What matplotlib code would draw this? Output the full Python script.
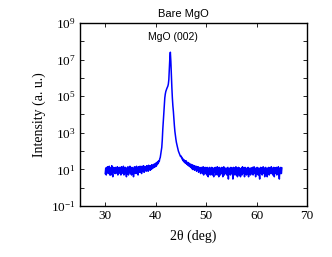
import numpy as np
import matplotlib
matplotlib.use("Agg")
import matplotlib.pyplot as plt
from matplotlib.ticker import LogFormatterMathtext

# 2theta grid, 0.1 deg step from 30 to 65
twoTheta = np.round(np.arange(30.0, 65.05, 0.1), 1)

intensity = [
  6, 12, 5, 13, 7, 14, 6, 11, 15, 5,
  12, 5, 11, 16, 6, 4, 13, 7, 12, 6,
  13, 6, 11, 7, 14, 5, 12, 6, 13, 7,
  12, 5, 14, 6, 11, 7, 15, 5, 12, 6,
  13, 7, 4, 12, 6, 14, 5, 11, 7, 15,
  6, 12, 5, 13, 7, 11, 4, 12, 14, 6,
  13, 7, 15, 6, 12, 5, 14, 7, 12, 15,
  7, 13, 6, 15, 8, 12, 16, 7, 13, 9,
  14, 8, 16, 9, 15, 8, 17, 10, 15, 9,
  16, 10, 18, 11, 17, 12, 19, 13, 20, 14,
  22, 15, 24, 18, 27, 21, 30, 27, 38, 45,
  70, 100, 160, 400, 1500, 4000, 12000, 35000, 80000, 130000,
  180000, 220000, 260000, 300000, 350000, 450000, 800000, 3000000, 12000000, 25000000,
  8000000, 1500000, 300000, 80000, 30000, 15000, 6000, 2500, 1200, 700,
  450, 300, 220, 170, 130, 100, 85, 70, 60, 52,
  55, 44, 46, 34, 38, 28, 34, 24, 30, 22,
  30, 20, 25, 18, 24, 16, 22, 15, 20, 13,
  19, 12, 18, 10, 17, 11, 16, 9, 15, 10,
  15, 8, 14, 9, 14, 7, 13, 8, 12, 6,
  13, 7, 12, 6, 14, 5, 12, 7, 13, 6,
  12, 5, 13, 7, 4, 12, 6, 13, 5, 11,
  7, 13, 5, 12, 6, 4, 12, 7, 13, 5,
  11, 6, 14, 5, 12, 4, 13, 7, 5, 12,
  6, 13, 7, 4, 12, 14, 5, 11, 6, 12,
  7, 5, 12, 13, 3, 11, 6, 12, 5, 13,
  6, 12, 7, 3, 13, 6, 12, 5, 11, 14,
  5, 12, 4, 11, 13, 5, 12, 6, 4, 11,
  12, 5, 14, 6, 11, 12, 4, 13, 6, 11,
  5, 12, 7, 13, 4, 11, 6, 12, 5, 11,
  12, 6, 13, 5, 11, 14, 6, 12, 4, 11,
  6, 13, 7, 5, 12, 6, 3, 11, 13, 6,
  12, 5, 11, 14, 6, 12, 4, 11, 13, 6,
  11, 4, 12, 6, 13, 5, 11, 12, 6, 14,
  6, 12, 5, 11, 13, 4, 12, 6, 11, 13,
  5, 12, 7, 14, 6, 3, 12, 6, 13, 6,
  12,
]

xTicks = [30, 40, 50, 60, 70]
yMajor = [1e-1, 1e1, 1e3, 1e5, 1e7, 1e9]
yMinor = [1e0, 1e2, 1e4, 1e6, 1e8]

plt.rcParams["font.family"] = "Liberation Serif"
plt.rcParams["mathtext.fontset"] = "custom"
plt.rcParams["mathtext.rm"] = "Liberation Serif"

fig = plt.figure(figsize=(3.32, 2.57), dpi=100)
ax = fig.add_axes([0.241, 0.198, 0.684, 0.713])

ax.semilogy(twoTheta, intensity, "-", color=(0, 0, 1), lw=1.1)

ax.set_xlim(25, 70)
ax.set_ylim(1e-1, 1e9)
ax.set_xticks(xTicks)
ax.set_yticks(yMajor)
ax.set_yticks(yMinor, minor=True)
ax.yaxis.set_major_formatter(LogFormatterMathtext())
ax.yaxis.set_minor_formatter(plt.NullFormatter())
ax.tick_params(which="both", direction="in", top=True, right=True,
               length=3, width=0.6, labelsize=9.5, pad=3)
for s in ax.spines.values():
  s.set_linewidth(1.0)

ax.set_xlabel("2\u03b8 (deg)", fontsize=10, labelpad=5)
ax.set_ylabel("Intensity (a. u.)", fontsize=10, labelpad=4)

ax.text(0.454, 1.02, "Bare MgO", transform=ax.transAxes, ha="center",
        va="bottom", family="Liberation Sans", fontsize=8)
ax.text(43.4, 1.6e8, "MgO (002)", ha="center", va="center",
        family="Liberation Sans", fontsize=7.5)

fig.savefig("out.png", dpi=100)
